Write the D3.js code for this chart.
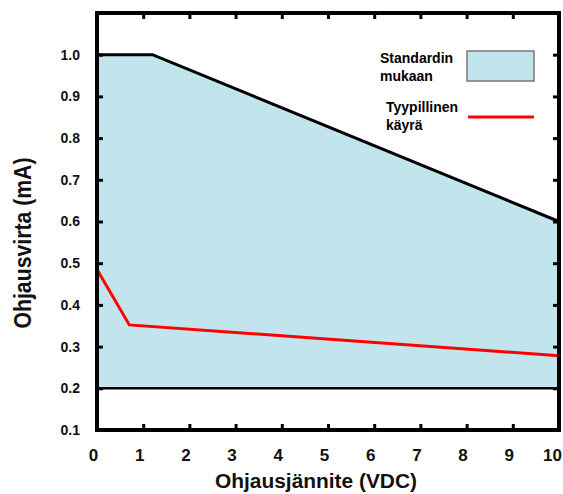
<!DOCTYPE html>
<html>
<head>
<meta charset="utf-8">
<script src="https://cdn.jsdelivr.net/npm/d3@7"></script>
<style>
  body { margin: 0; background: #fff; }
  text { font-family: Arial, "Liberation Sans", sans-serif; font-weight: bold; }
</style>
</head>
<body>
<div id="chart"></div>
<script>
// standard band (upper limit), lower limit is 0.2
var stdVolt = [0, 1.2, 10];
var stdCurr = [1.0, 1.0, 0.6];
var stdLow = 0.2;
// typical curve
var typVolt = [0, 0.7, 10];
var typCurr = [0.485, 0.352, 0.278];
var xTicks = [0, 1, 2, 3, 4, 5, 6, 7, 8, 9, 10];
var yTicks = [0.1, 0.2, 0.3, 0.4, 0.5, 0.6, 0.7, 0.8, 0.9, 1.0];

var width = 563, height = 494;
var margin = { top: 13, right: 4, bottom: 64, left: 97 };
var w = width - margin.left - margin.right,
    h = height - margin.top - margin.bottom;
var blue = '#c2e4ec';

var xS = d3.scaleLinear().domain([0, 10]).range([0, w]);
var yS = d3.scaleLinear().domain([0.1, 1.1]).range([h, 0]);

var svg = d3.select('#chart').append('svg')
  .attr('width', width).attr('height', height);
var graph = svg.append('g')
  .attr('transform', 'translate(' + margin.left + ',' + margin.top + ')');

var std = stdVolt.map(function(v, i) { return [v, stdCurr[i]]; });
graph.append('path')
  .datum(std)
  .attr('fill', blue)
  .attr('d', d3.area()
    .x(function(d) { return xS(d[0]); })
    .y0(yS(stdLow))
    .y1(function(d) { return yS(d[1]); }));
graph.append('path')
  .datum(std)
  .attr('fill', 'none').attr('stroke', '#000').attr('stroke-width', 3)
  .attr('d', d3.line()
    .x(function(d) { return xS(d[0]); })
    .y(function(d) { return yS(d[1]); }));
graph.append('line')
  .attr('x1', xS(0)).attr('x2', xS(10))
  .attr('y1', yS(stdLow)).attr('y2', yS(stdLow))
  .attr('stroke', '#000').attr('stroke-width', 2.5);

var typ = typVolt.map(function(v, i) { return [v, typCurr[i]]; });
graph.append('path')
  .datum(typ)
  .attr('fill', 'none').attr('stroke', '#ff0000').attr('stroke-width', 3)
  .attr('d', d3.line()
    .x(function(d) { return xS(d[0]); })
    .y(function(d) { return yS(d[1]); }));

// axes, ticks point inward
function styleAxis(g, fs) {
  g.select('.domain').remove();
  g.selectAll('line').attr('stroke', '#000').attr('stroke-width', 3);
  g.selectAll('text').attr('fill', '#111').style('font-size', fs)
    .style('font-family', 'Arial, "Liberation Sans", sans-serif');
}
graph.append('g')
  .call(d3.axisLeft(yS).tickValues(yTicks).tickSizeInner(-6).tickSizeOuter(0)
    .tickPadding(17).tickFormat(d3.format('.1f')))
  .call(styleAxis, '14px');
graph.append('g')
  .attr('transform', 'translate(' + w + ',0)')
  .call(d3.axisRight(yS).tickValues(yTicks).tickSizeInner(-6).tickSizeOuter(0).tickFormat(''))
  .call(styleAxis, '14px');
graph.append('g')
  .attr('transform', 'translate(0,' + h + ')')
  .call(d3.axisBottom(xS).tickValues(xTicks).tickSizeInner(-6).tickSizeOuter(0)
    .tickPadding(19).tickFormat(d3.format('d')))
  .call(styleAxis, '17px')
  .selectAll('text').attr('dx', function(d) { return d === 10 ? -7 : -4; });
graph.append('g')
  .call(d3.axisTop(xS).tickValues(xTicks).tickSizeInner(-6).tickSizeOuter(0).tickFormat(''))
  .call(styleAxis, '14px');

graph.append('rect')
  .attr('width', w).attr('height', h)
  .attr('fill', 'none').attr('stroke', '#000').attr('stroke-width', 4);

// axis titles
svg.append('text')
  .attr('x', 316).attr('y', 488)
  .attr('text-anchor', 'middle')
  .attr('textLength', 202).attr('lengthAdjust', 'spacingAndGlyphs')
  .style('font-size', '20px').attr('fill', '#111')
  .text('Ohjausjännite (VDC)');
svg.append('text')
  .attr('transform', 'translate(31,243) rotate(-90)')
  .attr('text-anchor', 'middle')
  .attr('textLength', 171).attr('lengthAdjust', 'spacingAndGlyphs')
  .style('font-size', '23px').attr('fill', '#111')
  .text('Ohjausvirta (mA)');

// legend
var legend = svg.append('g');
legend.append('text').attr('x', 380).attr('y', 63).style('font-size', '14px').text('Standardin');
legend.append('text').attr('x', 380).attr('y', 81).style('font-size', '14px').text('mukaan');
legend.append('rect').attr('x', 467).attr('y', 51).attr('width', 67).attr('height', 30)
  .attr('fill', blue).attr('stroke', '#777').attr('stroke-width', 1.5);
legend.append('text').attr('x', 386).attr('y', 112).style('font-size', '14px').text('Tyypillinen');
legend.append('text').attr('x', 386).attr('y', 130).style('font-size', '14px').text('käyrä');
legend.append('line').attr('x1', 468).attr('x2', 534).attr('y1', 117).attr('y2', 117)
  .attr('stroke', '#ff0000').attr('stroke-width', 3);
</script>
</body>
</html>
